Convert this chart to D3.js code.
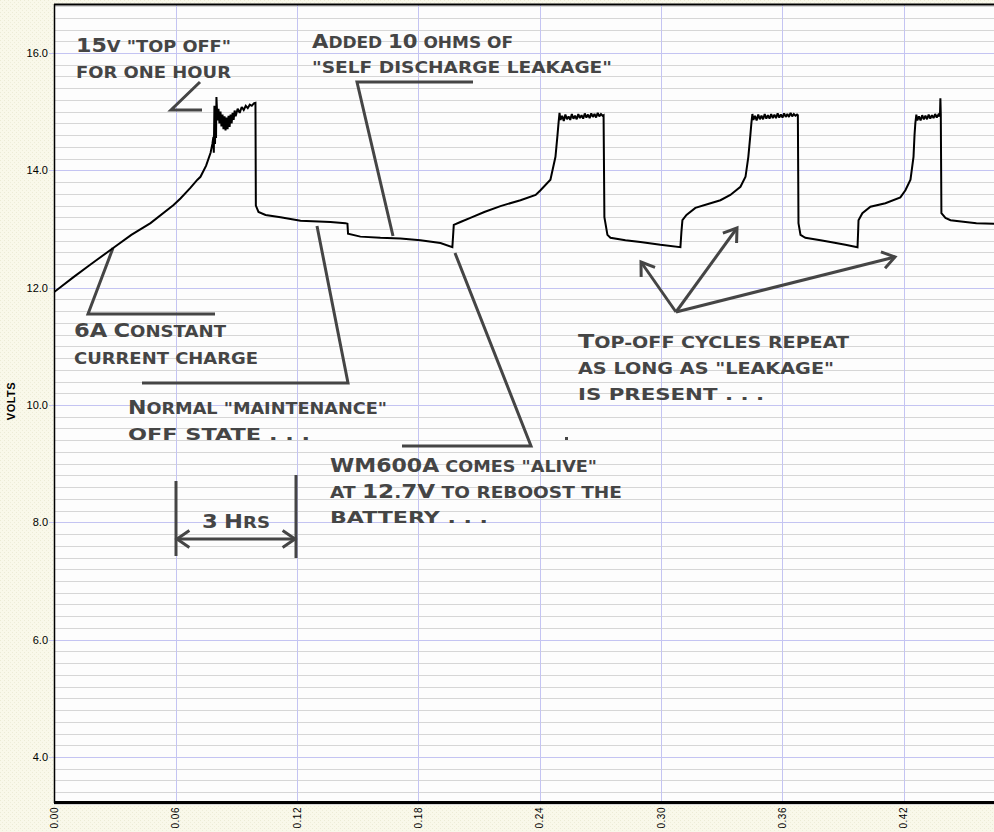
<!DOCTYPE html>
<html><head><meta charset="utf-8">
<script src="https://cdn.jsdelivr.net/npm/d3@7/dist/d3.min.js"></script>
<style>html,body{margin:0;padding:0;background:#f8f7e8;}svg{display:block;}</style>
</head><body>
<script>
// ---- data (time axis units, volts) ----
const samples = [
 [0.0000,11.93],[0.0094,12.18],[0.0168,12.37],[0.0200,12.45],[0.0292,12.68],[0.0380,12.90],[0.0475,13.10],
 [0.0589,13.41],[0.0623,13.52],[0.0672,13.70],[0.0707,13.84],[0.0722,13.89],[0.0750,14.08],
 [0.0772,14.30],[0.0781,14.45],[0.0786,14.57],
 // first top-off (noisy)
 [0.0788,14.30],[0.0791,15.10],[0.0794,14.45],[0.0796,15.05],[0.0799,14.55],[0.0801,15.25],
 [0.0806,14.85],[0.0811,15.05],[0.0816,14.80],[0.0821,15.00],[0.0826,14.75],[0.0831,14.95],
 [0.0836,14.70],[0.0841,14.92],[0.0846,14.68],[0.0851,14.90],[0.0856,14.70],[0.0861,14.93],
 [0.0866,14.74],[0.0871,14.95],[0.0876,14.80],[0.0881,14.98],[0.0886,14.86],[0.0891,15.02],
 [0.0896,14.92],[0.0906,15.05],[0.0916,14.98],[0.0926,15.08],[0.0936,15.03],[0.0946,15.10],
 [0.0956,15.06],[0.0966,15.12],[0.0976,15.10],[0.0986,15.14],[0.0994,15.15],
 [0.0996,13.40],[0.1009,13.29],[0.1044,13.24],[0.1118,13.20],[0.1217,13.14],[0.1365,13.12],
 [0.1439,13.10],[0.1449,13.09],[0.1452,12.92],[0.1513,12.87],[0.1612,12.85],[0.1711,12.84],
 [0.1810,12.81],[0.1909,12.76],[0.1968,12.69],
 [0.1975,13.07],[0.2008,13.12],[0.2057,13.19],[0.2126,13.29],[0.2206,13.39],[0.2305,13.49],
 [0.2380,13.58],[0.2404,13.66],[0.2453,13.84],[0.2478,14.23],[0.2488,14.60],[0.2493,14.80],
 [0.2498,14.98],
 // second top-off
 [0.2503,14.86],[0.2511,14.93],[0.2519,14.84],[0.2527,14.95],[0.2535,14.87],[0.2543,14.92],
 [0.2551,14.86],[0.2559,14.96],[0.2567,14.88],[0.2575,14.93],[0.2583,14.87],[0.2591,14.96],
 [0.2599,14.89],[0.2607,14.94],[0.2615,14.88],[0.2623,14.97],[0.2631,14.90],[0.2639,14.95],
 [0.2647,14.89],[0.2655,14.97],[0.2663,14.91],[0.2671,14.96],[0.2679,14.90],[0.2687,14.98],
 [0.2695,14.92],[0.2703,14.96],[0.2711,14.93],[0.2716,14.94],
 [0.2720,13.20],[0.2735,12.90],[0.2750,12.85],[0.2824,12.81],[0.2898,12.78],[0.2997,12.73],
 [0.3096,12.69],
 [0.3101,12.95],[0.3106,13.15],[0.3126,13.24],[0.3170,13.36],[0.3245,13.44],[0.3294,13.49],
 [0.3343,13.58],[0.3393,13.72],[0.3418,13.89],[0.3432,14.23],[0.3442,14.60],[0.3447,14.80],
 [0.3452,14.96],
 // third top-off
 [0.3457,14.86],[0.3465,14.93],[0.3473,14.85],[0.3481,14.95],[0.3489,14.87],[0.3497,14.93],
 [0.3505,14.87],[0.3513,14.96],[0.3521,14.88],[0.3529,14.94],[0.3537,14.88],[0.3545,14.96],
 [0.3553,14.89],[0.3561,14.95],[0.3569,14.89],[0.3577,14.97],[0.3585,14.90],[0.3593,14.95],
 [0.3601,14.90],[0.3609,14.97],[0.3617,14.91],[0.3625,14.96],[0.3633,14.91],[0.3641,14.98],
 [0.3649,14.92],[0.3657,14.96],[0.3665,14.93],[0.3673,14.95],[0.3677,14.94],
 [0.3680,13.10],[0.3690,12.90],[0.3714,12.85],[0.3789,12.81],[0.3838,12.78],[0.3912,12.73],
 [0.3972,12.69],
 [0.3975,12.95],[0.3977,13.15],[0.3996,13.27],[0.4036,13.38],[0.4110,13.44],[0.4184,13.54],
 [0.4209,13.66],[0.4234,13.84],[0.4249,14.23],[0.4254,14.60],[0.4258,14.80],[0.4263,14.95],
 // fourth top-off
 [0.4268,14.85],[0.4276,14.92],[0.4284,14.85],[0.4292,14.94],[0.4300,14.87],[0.4308,14.93],
 [0.4316,14.87],[0.4324,14.95],[0.4332,14.88],[0.4340,14.94],[0.4348,14.89],[0.4356,14.96],
 [0.4364,14.90],[0.4372,14.95],[0.4378,14.92],[0.4380,14.95],[0.4382,15.23],[0.4384,14.95],
 [0.4387,13.27],[0.4407,13.19],[0.4432,13.15],[0.4506,13.12],[0.4560,13.10],[0.4649,13.09],
 [0.4700,13.08]
];
const xTicks = [0.00,0.06,0.12,0.18,0.24,0.30,0.36,0.42];
const yTicks = [4,6,8,10,12,14,16];
const yMinorStep = 0.2;
const yLabel = "VOLTS";

// annotations: text lines [text, left x, baseline y, width]
const notes = [
 ['15v "top off"', 76, 52, 155],
 ['for one hour', 76, 78, 155],
 ['Added 10 ohms of', 312, 48, 201],
 ['"self discharge leakage"', 312, 73, 300],
 ['6A Constant', 74, 337, 152],
 ['current charge', 74, 364, 184],
 ['Normal "maintenance"', 128, 414, 259],
 ['off state . . .', 128, 440, 182],
 ['WM600A comes "alive"', 330, 472, 267],
 ['at 12.7V to reboost the', 330, 498, 292],
 ['battery . . .', 330, 523, 158],
 ['Top-off cycles repeat', 578, 348, 271],
 ['as long as "leakage"', 578, 374, 256],
 ['is present . . .', 578, 400, 186],
 ['3 Hrs', 202, 528, 68]
];
const pointers = [
 [[200,82],[171,110],[202,110]],
 [[473,82],[357,82],[393,236]],
 [[113,248],[88,314],[215,314]],
 [[317,226],[348,383],[142,383]],
 [[455,253],[531,446],[402,446]],
 [[296,475],[296,558]],
 [[176,481],[176,556]]
];
const arrows = [
 [[676,312],[641,262]],
 [[676,312],[737,228]],
 [[676,312],[895,257]],
 [[236,539],[177,539]],
 [[236,539],[295,539]]
];

// ---- drawing ----
const W = 994, H = 832;
const svg = d3.select("body").append("svg").attr("width", W).attr("height", H);
const defs = svg.append("defs");
const pat = defs.append("pattern").attr("id","tex").attr("width",4).attr("height",4).attr("patternUnits","userSpaceOnUse");
pat.append("rect").attr("width",4).attr("height",4).attr("fill","#f9f8ea");
pat.append("rect").attr("x",0).attr("y",0).attr("width",1).attr("height",1).attr("fill","#ecebd6");
pat.append("rect").attr("x",2).attr("y",2).attr("width",1).attr("height",1).attr("fill","#eeedd9");
svg.append("rect").attr("width",W).attr("height",H).attr("fill","url(#tex)");

const x = d3.scaleLinear().domain([0, 0.06]).range([54.5, 175.8]);
const y = d3.scaleLinear().domain([4, 16]).range([757, 53]);
const pL = 54, pT = 4, pB = 802, pR = W + 5;

svg.append("rect").attr("x",pL).attr("y",pT).attr("width",pR-pL).attr("height",pB-pT).attr("fill","#fdfdfd");

const snap = v => Math.round(v) + 0.5;
const minor = d3.range(Math.ceil(3.2/yMinorStep), Math.floor(16.8/yMinorStep)+1).map(i => +(i*yMinorStep).toFixed(1))
  .filter(v => Math.abs(v/2 - Math.round(v/2)) > 1e-6);
const g = svg.append("g");
g.selectAll("line.minor").data(minor).join("line").attr("class","minor")
 .attr("x1", pL).attr("x2", pR).attr("y1", d => snap(y(d))).attr("y2", d => snap(y(d)))
 .attr("stroke", "#d6d6d6").attr("stroke-width", 1);
g.selectAll("line.vmaj").data(xTicks.slice(1)).join("line").attr("class","vmaj")
 .attr("x1", d => snap(x(d))).attr("x2", d => snap(x(d))).attr("y1", pT).attr("y2", pB)
 .attr("stroke", "#c4c4f2").attr("stroke-width", 1);
g.selectAll("line.hmaj").data(yTicks).join("line").attr("class","hmaj")
 .attr("x1", pL - 5).attr("x2", pR).attr("y1", d => snap(y(d))).attr("y2", d => snap(y(d)))
 .attr("stroke", "#c4c4f2").attr("stroke-width", 1);

// axis labels
svg.selectAll("text.yt").data(yTicks).join("text").attr("class","yt")
 .attr("x", 48).attr("y", d => y(d)).attr("dy","0.35em").attr("text-anchor","end")
 .attr("font-family","Liberation Sans, Arial, sans-serif").attr("font-size",11).attr("fill","#000")
 .text(d => d3.format(".1f")(d));
svg.selectAll("text.xt").data(xTicks).join("text").attr("class","xt")
 .attr("transform", d => `translate(${x(d)},807) rotate(-90)`).attr("dy","0.35em").attr("text-anchor","end")
 .attr("font-family","Liberation Sans, Arial, sans-serif").attr("font-size",10).attr("fill","#000")
 .attr("letter-spacing", 0.5)
 .text(d => d3.format(".2f")(d));
svg.append("text").attr("transform","translate(15,401) rotate(-90)").attr("text-anchor","middle")
 .attr("font-family","Liberation Sans, Arial, sans-serif").attr("font-size",11).attr("font-weight","bold")
 .attr("letter-spacing", 0.5).text(yLabel);

// annotations
const ink = "#454545";
const ann = svg.append("g");
const lineGen = d3.line();
pointers.forEach(p => ann.append("path").attr("d", lineGen(p)).attr("fill","none").attr("stroke",ink).attr("stroke-width",3).attr("stroke-linejoin","miter"));
arrows.forEach(([a,b]) => {
  ann.append("line").attr("x1",a[0]).attr("y1",a[1]).attr("x2",b[0]).attr("y2",b[1]).attr("stroke",ink).attr("stroke-width",3);
  const ang = Math.atan2(b[1]-a[1], b[0]-a[0]), L = 15, s = 0.6;
  const h1 = [b[0]-L*Math.cos(ang-s), b[1]-L*Math.sin(ang-s)], h2 = [b[0]-L*Math.cos(ang+s), b[1]-L*Math.sin(ang+s)];
  ann.append("path").attr("d", lineGen([h1,b,h2])).attr("fill","none").attr("stroke",ink).attr("stroke-width",3);
});
ann.append("rect").attr("x",565).attr("y",437).attr("width",3).attr("height",3).attr("fill",ink);

notes.forEach(([txt, tx, ty, tw]) => {
  const t = ann.append("text").attr("x", tx).attr("y", ty).attr("fill", ink)
    .attr("font-family","DejaVu Sans, sans-serif").attr("font-weight","bold")
    .attr("textLength", tw).attr("lengthAdjust","spacingAndGlyphs");
  const runs = [];
  for (const ch of txt) {
    const big = /[A-Z0-9]/.test(ch);
    if (runs.length && runs[runs.length-1].big === big) runs[runs.length-1].s += ch;
    else runs.push({big, s: ch});
  }
  runs.forEach(r => t.append("tspan").attr("font-size", r.big ? 20 : 16).text(r.s.toUpperCase()));
});

// data line
const clip = defs.append("clipPath").attr("id","pc");
clip.append("rect").attr("x",pL).attr("y",pT).attr("width",pR-pL).attr("height",pB-pT);
svg.append("path").datum(samples).attr("clip-path","url(#pc)")
 .attr("d", d3.line().x(d => x(d[0])).y(d => y(d[1])))
 .attr("fill","none").attr("stroke","#000").attr("stroke-width",2).attr("stroke-linejoin","miter").attr("stroke-miterlimit",2);

// frame
svg.append("line").attr("x1",pL+0.5).attr("x2",pL+0.5).attr("y1",pT).attr("y2",pB+1).attr("stroke","#000").attr("stroke-width",1.5);
svg.append("line").attr("x1",pL).attr("x2",W).attr("y1",pT+0.5).attr("y2",pT+0.5).attr("stroke","#000").attr("stroke-width",2);
svg.append("line").attr("x1",pL).attr("x2",W).attr("y1",pB+0.5).attr("y2",pB+0.5).attr("stroke","#000").attr("stroke-width",3);
</script>
</body></html>
